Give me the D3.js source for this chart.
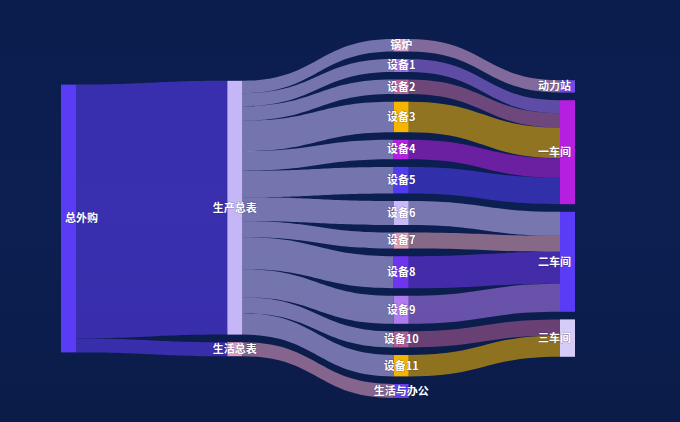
<!DOCTYPE html>
<html>
<head>
<meta charset="utf-8">
<script src="https://cdn.jsdelivr.net/npm/d3@7"></script>
<style>
html,body{margin:0;padding:0;background:#0c1f50;}
svg{display:block;}
</style>
</head>
<body>
<svg id="chart" width="680" height="422"></svg>
<script>
// ---- data ----
const nodeNames = ["总外购","生产总表","生活总表","锅炉","设备1","设备2","设备3","设备4","设备5","设备6","设备7","设备8","设备9","设备10","设备11","生活与办公","动力站","一车间","二车间","三车间"];
const nodeColors = ["#5b3cf6","#c5b6f7","#e29cc0","#dba4d6","#9d6ee6","#b8669c","#f7b500","#b41fe0","#4f3cf0","#c8b9f8","#e3a0b2","#6f34ee","#b07af0","#b25c92","#f2b400","#6442e8","#6f4ce8","#b41fe0","#5b3cf6","#d6ccf8"];
const linkSources = ["总外购","总外购",
  "生产总表","生产总表","生产总表","生产总表","生产总表","生产总表","生产总表","生产总表","生产总表","生产总表","生产总表","生产总表",
  "生活总表",
  "锅炉","设备1","设备2","设备3","设备4","设备5","设备6","设备7","设备8","设备9","设备10","设备11"];
const linkTargets = ["生产总表","生活总表",
  "锅炉","设备1","设备2","设备3","设备4","设备5","设备6","设备7","设备8","设备9","设备10","设备11",
  "生活与办公",
  "动力站","一车间","一车间","一车间","一车间","一车间","二车间","二车间","二车间","二车间","三车间","三车间"];
const linkValues = [2538,140,
  124,130,145,305,195,265,240,160,320,280,160,214,
  140,
  124,130,145,305,195,265,240,160,320,280,160,214];

// ---- layout constants ----
const W = 680, H = 422;
const areaLeft = 61, areaRight = 575, areaTop = 39, areaBottom = 398;
const nodeW = 15, nodeGap = 7.6, curveness = 0.5, linkOpacity = 0.57;

const svg = d3.select("#chart");
const defs = svg.append("defs");
const bg = defs.append("linearGradient").attr("id","bg").attr("x1",0).attr("y1",0).attr("x2",0).attr("y2",1);
bg.append("stop").attr("offset","0%").attr("stop-color","#0b1d4d");
bg.append("stop").attr("offset","50%").attr("stop-color","#0c1f51");
bg.append("stop").attr("offset","100%").attr("stop-color","#0b1c49");
svg.append("rect").attr("width",W).attr("height",H).attr("fill","url(#bg)");

// build graph
const nodes = nodeNames.map((name,i)=>({name, color:nodeColors[i], sourceLinks:[], targetLinks:[], depth:0}));
const byName = new Map(nodes.map(n=>[n.name,n]));
const links = linkValues.map((v,i)=>({source:byName.get(linkSources[i]), target:byName.get(linkTargets[i]), value:v}));
links.forEach(l=>{l.source.sourceLinks.push(l); l.target.targetLinks.push(l);});
nodes.forEach(n=>{n.value = Math.max(d3.sum(n.sourceLinks,l=>l.value), d3.sum(n.targetLinks,l=>l.value));});
let changed = true;
while(changed){changed=false; links.forEach(l=>{ if(l.target.depth < l.source.depth+1){l.target.depth=l.source.depth+1; changed=true;} });}
const maxDepth = d3.max(nodes,n=>n.depth);
const columns = d3.groups(nodes,n=>n.depth).sort((a,b)=>a[0]-b[0]).map(d=>d[1]);
const innerH = areaBottom - areaTop;
const ky = d3.min(columns, col => (innerH - (col.length-1)*nodeGap) / d3.sum(col,n=>n.value));
const size = d3.scaleLinear().domain([0,1]).range([0,ky]);
const xScale = d3.scaleLinear().domain([0,maxDepth]).range([areaLeft, areaRight-nodeW]);

columns.forEach(col=>{
  const total = d3.sum(col,n=>size(n.value)) + (col.length-1)*nodeGap;
  let y = areaTop + (innerH - total)/2;
  col.forEach(n=>{
    n.x0 = xScale(n.depth); n.x1 = n.x0 + nodeW;
    n.y0 = y; n.y1 = y + size(n.value); y = n.y1 + nodeGap;
  });
});
nodes.forEach(n=>{
  n.sourceLinks.sort((a,b)=>a.target.y0-b.target.y0);
  n.targetLinks.sort((a,b)=>a.source.y0-b.source.y0);
  let sy = n.y0; n.sourceLinks.forEach(l=>{l.width=size(l.value); l.sy=sy; sy+=l.width;});
  let ty = n.y0; n.targetLinks.forEach(l=>{l.ty=ty; ty+=size(l.value);});
});

function linkArea(l){
  const x1 = l.source.x1, x2 = l.target.x0, y1 = l.sy, y2 = l.ty, w = l.width;
  const cx1 = x1*(1-curveness) + x2*curveness, cx2 = x1*curveness + x2*(1-curveness);
  const p = d3.path();
  p.moveTo(x1,y1);
  p.bezierCurveTo(cx1,y1,cx2,y2,x2,y2);
  p.lineTo(x2,y2+w);
  p.bezierCurveTo(cx2,y2+w,cx1,y1+w,x1,y1+w);
  p.closePath();
  return p.toString();
}

svg.append("g").selectAll("path").data(links).join("path")
  .attr("d",linkArea)
  .attr("fill",d=>d.source.color)
  .attr("fill-opacity",linkOpacity);

svg.append("g").selectAll("rect").data(nodes).join("rect")
  .attr("x",d=>d.x0).attr("y",d=>d.y0)
  .attr("width",d=>d.x1-d.x0).attr("height",d=>Math.max(1,d.y1-d.y0))
  .attr("fill",d=>d.color);

svg.append("g").selectAll("text").data(nodes).join("text")
  .attr("x",d=> d.depth===0 ? d.x0+4 : d.depth===maxDepth ? d.x1-4 : (d.x0+d.x1)/2)
  .attr("y",d=>(d.y0+d.y1)/2)
  .attr("dy","0.35em")
  .attr("text-anchor",d=> d.depth===0 ? "start" : d.depth===maxDepth ? "end" : "middle")
  .attr("font-family","'Noto Sans CJK SC','Noto Sans',sans-serif")
  .attr("font-size",11)
  .attr("font-weight","bold")
  .attr("fill","#ffffff")
  .attr("stroke","rgba(20,20,60,0.3)")
  .attr("stroke-width",1)
  .attr("paint-order","stroke")
  .text(d=>d.name);
</script>
</body>
</html>
